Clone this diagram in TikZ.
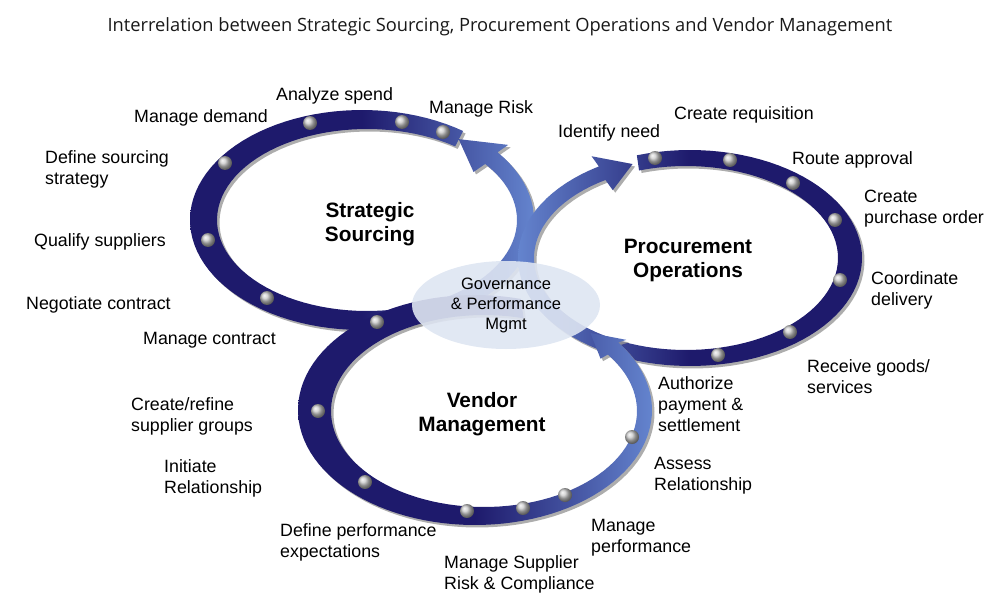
\documentclass[tikz,border=0pt]{standalone}
\usepackage{fontspec}
\setmainfont{Liberation Sans}
\newfontfamily\titlefont{Open Sans}
\usetikzlibrary{shapes.geometric,shadows}
\definecolor{ringdark}{RGB}{30,26,108}
\definecolor{ringlight}{RGB}{100,132,206}
\definecolor{govfill}{RGB}{222,229,242}
\definecolor{beadgray}{RGB}{200,200,200}
\begin{document}
\begin{tikzpicture}[x=1pt,y=-1pt]
    \useasboundingbox (0,0) rectangle (1000,607);
    \newcounter{k}
    \tikzstyle{ring}=[drop shadow={shadow xshift=2.5pt,shadow yshift=-2.5pt,fill=gray!80,opacity=.8}]
    \tikzstyle{bead}=[circle, inner sep=0pt, minimum size=14pt, ball color=beadgray]
    \tikzstyle{task}=[inner sep=0pt, anchor=west, yshift=-2pt, align=left, font=\fontsize{17.8}{21}\selectfont]
    \tikzstyle{area}=[inner sep=0pt, yshift=-2pt, align=center, font=\fontsize{20.8}{24}\selectfont\bfseries]
    \tikzstyle{govern}=[ellipse, inner sep=0pt, minimum width=188pt, minimum height=88pt, fill=govfill, fill opacity=.9, text opacity=1, align=center, font=\fontsize{16.5}{20}\selectfont]

    % strategic sourcing
    \path[ring, left color=ringdark, right color=ringlight, middle color=ringdark]
        plot[domain=306:-38, samples=100] ({362+172*cos(\x)}, {220+110*sin(\x)})
        -- ({364+183*cos(-38)}, {220+122*sin(-38)})
        -- ({364+161*cos(-54)}, {220+100*sin(-54)})
        -- ({364+139*cos(-38)}, {220+78*sin(-38)})
        -- plot[domain=-38:306, samples=100] ({367+150*cos(\x)}, {220+91*sin(\x)})
        -- cycle;

    % procurement operations
    \path[ring, left color=ringlight, right color=ringdark, middle color=ringdark]
        plot[domain=252:598, samples=100] ({690+172*cos(\x)}, {258+108*sin(\x)})
        -- ({688+182*cos(598)}, {258+120*sin(598)})
        -- ({688+162*cos(610)}, {258+100*sin(610)})
        -- ({688+142*cos(598)}, {258+80*sin(598)})
        -- plot[domain=598:252, samples=100] ({686+152*cos(\x)}, {258+92*sin(\x)})
        -- cycle;

    % vendor management
    \path[ring, left color=ringdark, right color=ringlight, middle color=ringdark]
        plot[domain=285:-36, samples=100] ({475+177*cos(\x)}, {410+115*sin(\x)})
        -- ({480+181*cos(-36)}, {411+121*sin(-36)})
        -- ({480+165*cos(-48)}, {411+105*sin(-48)})
        -- ({480+149*cos(-36)}, {411+89*sin(-36)})
        -- plot[domain=-36:285, samples=100] ({484+153*cos(\x)}, {411+96*sin(\x)})
        -- cycle;

    \foreach \p [count=\i] in {(310,123),(402,122),(443,132),(225,163),(208,240),(267,298),(377,322),
        (655,158),(730,160),(793,183),(835,220),(840,280),(790,332),(718,355),
        (318,411),(365,482),(467,511),(523,508),(565,495),(632,437)}
        \node[bead] (b\i) at \p {};

    \node[govern] (gov) at (506,305) {Governance\\\& Performance\\Mgmt};

    \node[area] (ss) at (370,222) {Strategic\\Sourcing};
    \node[area] (po) at (688,259) {Procurement\\Operations};
    \node[area] (vm) at (482,412) {Vendor\\Management};

    \node[font=\titlefont\fontsize{18.3}{21}\selectfont, text=black!90] (title) at (500,27)
        {Interrelation between Strategic Sourcing, Procurement Operations and Vendor Management};

    \stepcounter{k}\node[task] (\arabic{k}) at (134,116) {Manage demand};
    \stepcounter{k}\node[task] (\arabic{k}) at (276,94) {Analyze spend};
    \stepcounter{k}\node[task] (\arabic{k}) at (429,107) {Manage Risk};
    \stepcounter{k}\node[task] (\arabic{k}) at (45,167) {Define sourcing\\strategy};
    \stepcounter{k}\node[task] (\arabic{k}) at (34,240) {Qualify suppliers};
    \stepcounter{k}\node[task] (\arabic{k}) at (26,303) {Negotiate contract};
    \stepcounter{k}\node[task] (\arabic{k}) at (143,338) {Manage contract};
    \stepcounter{k}\node[task] (\arabic{k}) at (131,414) {Create/refine\\supplier groups};
    \stepcounter{k}\node[task] (\arabic{k}) at (164,476) {Initiate\\Relationship};
    \stepcounter{k}\node[task] (\arabic{k}) at (280,540) {Define performance\\expectations};
    \stepcounter{k}\node[task] (\arabic{k}) at (444,572) {Manage Supplier\\Risk \& Compliance};
    \stepcounter{k}\node[task] (\arabic{k}) at (591,536) {Manage\\performance};
    \stepcounter{k}\node[task] (\arabic{k}) at (654,474) {Assess\\Relationship};
    \stepcounter{k}\node[task] (\arabic{k}) at (658,402) {Authorize\\payment \&\\settlement};
    \stepcounter{k}\node[task] (\arabic{k}) at (807,375) {Receive goods/\\services};
    \stepcounter{k}\node[task] (\arabic{k}) at (871,288) {Coordinate\\delivery};
    \stepcounter{k}\node[task] (\arabic{k}) at (864,207) {Create\\purchase order};
    \stepcounter{k}\node[task] (\arabic{k}) at (792,158) {Route approval};
    \stepcounter{k}\node[task] (\arabic{k}) at (674,113) {Create requisition};
    \stepcounter{k}\node[task] (\arabic{k}) at (558,131) {Identify need};
\end{tikzpicture}
\end{document}
